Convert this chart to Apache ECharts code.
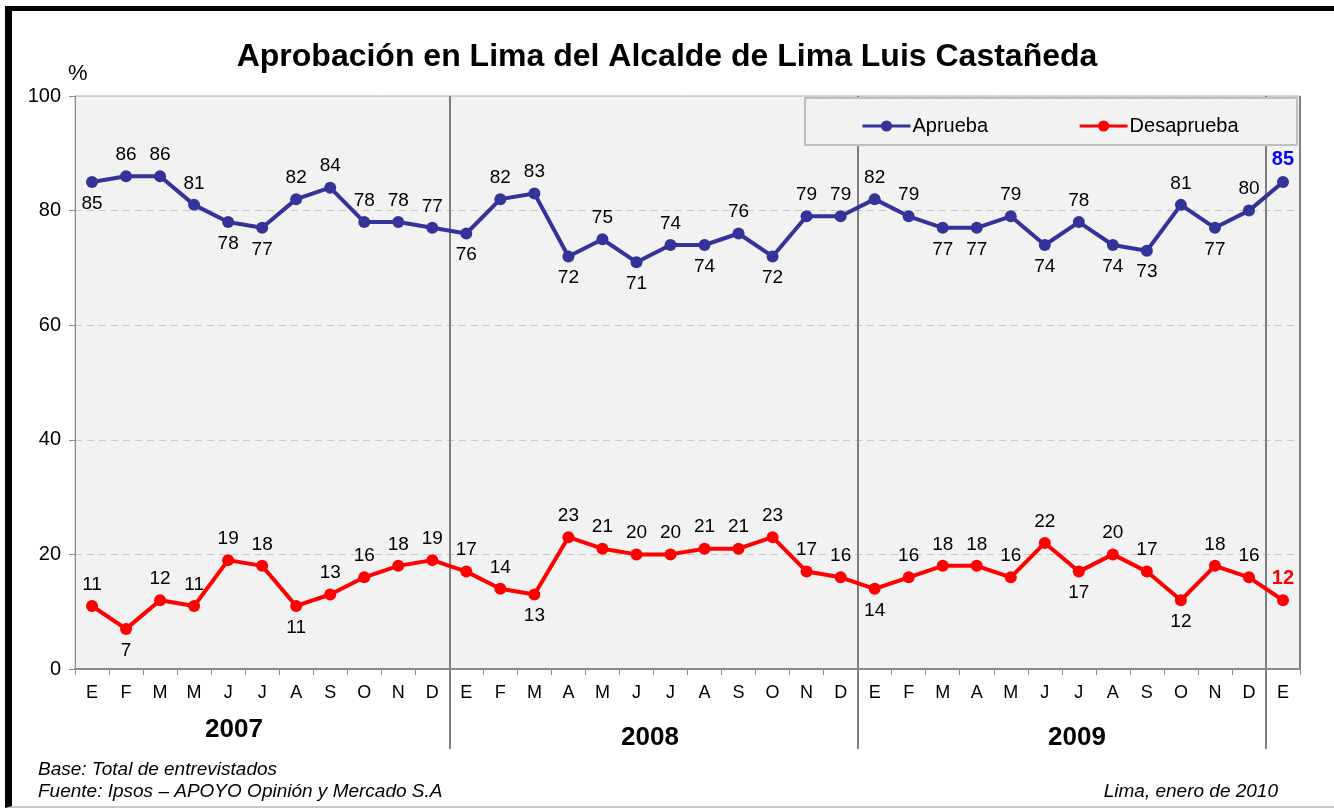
<!DOCTYPE html>
<html>
<head>
<meta charset="utf-8">
<title>Aprobación en Lima del Alcalde de Lima Luis Castañeda</title>
<script src="https://cdn.jsdelivr.net/npm/echarts@6/dist/echarts.min.js"></script>
<style>
  html, body { margin: 0; padding: 0; background: #fff; }
  .wrap { position: relative; width: 1334px; height: 810px; overflow: hidden; }
  #chart { position: absolute; left: 0; top: 0; width: 1334px; height: 810px; }
  .frame {
    position: absolute; left: 5px; top: 6px; width: 1340px; height: 802px;
    border-left: 7px solid #000; border-top: 5px solid #000; border-bottom: 2px solid #c8c8c8;
    box-sizing: border-box; pointer-events: none;
  }
</style>
</head>
<body>
<div class="wrap">
  <div id="chart"></div>
  <div class="frame"></div>
</div>
<script>
// meses: 2007 (sin abril), 2008, 2009 y enero 2010
const months = [
  'E', 'F', 'M', 'M', 'J', 'J', 'A', 'S', 'O', 'N', 'D',
  'E', 'F', 'M', 'A', 'M', 'J', 'J', 'A', 'S', 'O', 'N', 'D',
  'E', 'F', 'M', 'A', 'M', 'J', 'J', 'A', 'S', 'O', 'N', 'D',
  'E'
];
const aprueba = [
  85, 86, 86, 81, 78, 77, 82, 84, 78, 78, 77,
  76, 82, 83, 72, 75, 71, 74, 74, 76, 72, 79, 79,
  82, 79, 77, 77, 79, 74, 78, 74, 73, 81, 77, 80,
  85
];
const desaprueba = [
  11, 7, 12, 11, 19, 18, 11, 13, 16, 18, 19,
  17, 14, 13, 23, 21, 20, 20, 21, 21, 23, 17, 16,
  14, 16, 18, 18, 16, 22, 17, 20, 17, 12, 18, 16,
  12
];
const years = ['2007', '2008', '2009'];
const yTicks = [0, 20, 40, 60, 80, 100];
// indices whose value label sits under the point
const apruebaBelow = [0, 4, 5, 11, 14, 16, 18, 20, 25, 26, 28, 30, 31, 33];
const desapruebaBelow = [1, 6, 13, 23, 29, 32];
// first index of each new year (separator before it)
const yearStarts = [11, 23, 35];

const FONT = '"Liberation Sans", Arial, sans-serif';
const BLUE = '#333399';
const RED = '#ff0000';

function buildData(values, below, lastColor) {
  return values.map((v, i) => {
    const item = {
      value: v,
      label: { position: below.indexOf(i) >= 0 ? 'bottom' : 'top' }
    };
    if (i === values.length - 1) {
      item.label.color = lastColor;
      item.label.fontWeight = 'bold';
      item.label.fontSize = 20;
    }
    return item;
  });
}

const chart = echarts.init(document.getElementById('chart'));

const option = {
  animation: false,
  textStyle: { fontFamily: FONT },
  title: {
    text: 'Aprobación en Lima del Alcalde de Lima Luis Castañeda',
    left: 'center',
    top: 36,
    textStyle: { fontFamily: FONT, fontSize: 32, fontWeight: 'bold', color: '#000' }
  },
  legend: {
    left: 856,
    top: 111,
    z: 30,
    itemGap: 90,
    itemWidth: 48,
    itemHeight: 14,
    lineStyle: { width: 3 },
    textStyle: { fontFamily: FONT, fontSize: 20, color: '#000', padding: [0, 0, 0, -3] },
    data: ['Aprueba', 'Desaprueba']
  },
  grid: {
    left: 75,
    right: 34,
    top: 96,
    bottom: 141,
    show: true,
    backgroundColor: '#f2f2f2',
    borderColor: '#b4b4b4',
    borderWidth: 1
  },
  xAxis: [
    {
      type: 'category',
      data: months,
      boundaryGap: true,
      axisLine: { lineStyle: { color: '#8c8c8c', width: 2 } },
      axisTick: { show: true, length: 6, lineStyle: { color: '#8c8c8c' } },
      axisLabel: { color: '#000', fontSize: 18, fontFamily: FONT, margin: 15, interval: 0 },
      splitLine: {
        show: true,
        interval: (i) => yearStarts.indexOf(i) >= 0,
        lineStyle: { color: '#7f7f7f', width: 2 }
      }
    },
    {
      // long ticks that carry the year separators down past the labels
      type: 'value',
      min: -0.5,
      max: months.length - 0.5,
      position: 'bottom',
      axisLine: { show: false },
      axisLabel: { show: false },
      axisTick: {
        show: true,
        length: 80,
        customValues: yearStarts.map((i) => i - 0.5),
        lineStyle: { color: '#7f7f7f', width: 2 }
      },
      splitLine: { show: false }
    }
  ],
  yAxis: {
    type: 'value',
    min: yTicks[0],
    max: yTicks[yTicks.length - 1],
    interval: 20,
    axisLine: { show: true, onZero: false, lineStyle: { color: '#8c8c8c', width: 1 } },
    axisTick: { show: true, length: 6, lineStyle: { color: '#8c8c8c' } },
    axisLabel: { color: '#000', fontSize: 20, fontFamily: FONT, margin: 14 },
    splitLine: { show: true, lineStyle: { color: '#c8c8c8', type: [7, 5] } }
  },
  graphic: [
    {
      type: 'rect',
      z: 20,
      shape: { x: 805, y: 98, width: 492, height: 47 },
      style: { fill: '#f2f2f2', stroke: '#bfbfbf', lineWidth: 2 }
    },
    {
      type: 'text', left: 68, top: 63, z: 20,
      style: { text: '%', font: '22px ' + FONT, fill: '#000' }
    },
    {
      type: 'text', left: 205, top: 717, z: 20,
      style: { text: years[0], font: 'bold 26px ' + FONT, fill: '#000' }
    },
    {
      type: 'text', left: 621, top: 725, z: 20,
      style: { text: years[1], font: 'bold 26px ' + FONT, fill: '#000' }
    },
    {
      type: 'text', left: 1048, top: 725, z: 20,
      style: { text: years[2], font: 'bold 26px ' + FONT, fill: '#000' }
    },
    {
      type: 'text', left: 38, top: 760, z: 20,
      style: { text: 'Base: Total de entrevistados', font: 'italic 19px ' + FONT, fill: '#000' }
    },
    {
      type: 'text', left: 38, top: 782, z: 20,
      style: { text: 'Fuente: Ipsos – APOYO Opinión y Mercado S.A', font: 'italic 19px ' + FONT, fill: '#000' }
    },
    {
      type: 'text', right: 56, top: 782, z: 20,
      style: { text: 'Lima, enero de 2010', font: 'italic 19px ' + FONT, fill: '#000' }
    }
  ],
  series: [
    {
      name: 'Aprueba',
      type: 'line',
      data: buildData(aprueba, apruebaBelow, '#0000ff'),
      symbol: 'circle',
      symbolSize: 12,
      lineStyle: { color: BLUE, width: 4 },
      itemStyle: { color: BLUE },
      label: { show: true, color: '#000', fontSize: 19, fontFamily: FONT, distance: 6 },
      z: 5
    },
    {
      name: 'Desaprueba',
      type: 'line',
      data: buildData(desaprueba, desapruebaBelow, RED),
      symbol: 'circle',
      symbolSize: 12,
      lineStyle: { color: RED, width: 4 },
      itemStyle: { color: RED },
      label: { show: true, color: '#000', fontSize: 19, fontFamily: FONT, distance: 6 },
      z: 5
    }
  ]
};

chart.setOption(option);
</script>
</body>
</html>
